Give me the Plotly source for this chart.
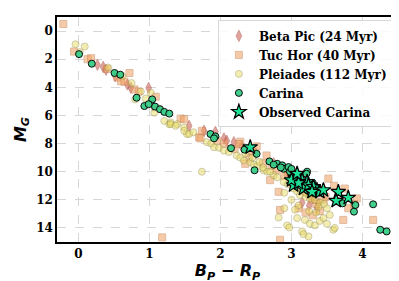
import plotly.graph_objects as go

# ---- data ----
pleiades_x = [-0.04, 0.09, 0.02, 0.42, 0.62, 0.75, 0.88, 1.02, 0.95, 1.07, 1.13, 1.21, 1.28, 1.30, 1.39, 1.49, 1.53, 1.49,
              1.56, 1.62, 1.74, 1.81, 1.87, 1.91, 1.98, 2.05, 2.12, 2.23, 2.28, 2.33, 2.42, 2.47, 2.52, 2.61, 2.66, 2.75,
              2.80, 2.89, 2.95, 3.03, 3.08, 3.12, 3.20, 3.26, 3.33, 3.40, 3.46, 3.10, 3.00, 2.90, 2.82, 2.94, 2.97, 3.08,
              3.15, 3.19, 3.24, 3.17, 3.26, 3.33, 3.40, 3.45, 3.54, 3.59, 3.61, 3.50, 3.25, 3.35, 2.90, 3.05, 2.60, 2.70,
              2.45, 2.55, 2.35, 3.20, 3.10, 3.50, 3.38, 1.30, 1.37, 0.80]
pleiades_y = [0.94, 1.10, 1.50, 2.60, 3.20, 3.70, 4.30, 4.39, 4.80, 5.80, 5.50, 6.39, 6.62, 6.50, 6.62, 6.85, 7.32, 7.09,
              7.32, 7.20, 10.0, 7.90, 8.00, 8.26, 8.30, 8.50, 8.60, 8.85, 9.00, 9.20, 9.32, 9.50, 9.60, 9.90, 10.0, 10.26,
              10.4, 10.73, 10.9, 11.2, 11.4, 11.67, 11.8, 11.9, 12.0, 12.2, 12.3, 12.4, 12.0, 11.5, 13.26, 13.82, 13.97, 13.3,
              14.25, 13.43, 14.6, 14.44, 13.7, 13.82, 13.5, 13.3, 13.08, 14.13, 14.0, 13.7, 12.8, 12.9, 12.6, 12.7, 9.7, 10.0,
              9.0, 9.3, 8.7, 11.5, 11.1, 12.6, 12.5, 6.62, 6.74, 4.86]

tuchor_x = [-0.21, -0.06, 0.13, 0.18, 0.40, 0.55, 0.60, 0.72, 0.65, 0.79, 0.85, 1.09, 1.44, 1.49, 1.70, 1.74, 1.72, 2.28,
            2.20, 2.35, 2.45, 2.65, 2.60, 2.72, 2.78, 2.82, 2.84, 2.84, 2.90, 2.95, 3.00, 3.10, 3.18, 3.25, 3.30, 3.35,
            3.40, 3.48, 3.52, 3.60, 3.75, 3.73, 3.92, 3.88, 4.15, 1.18, 3.10, 3.20, 3.30, 2.98, 2.70, 3.05, 3.45, 3.65,
            3.80, 2.40, 1.95, 2.05, 2.26, 2.51]
tuchor_y = [-0.5, 1.46, 2.00, 1.93, 2.70, 3.30, 3.57, 2.98, 3.60, 4.15, 4.30, 4.67, 6.22, 6.27, 7.56, 7.09, 7.63, 7.87,
            8.40, 9.44, 8.60, 8.85, 9.40, 9.60, 9.90, 11.43, 12.72, 14.84, 10.3, 10.1, 10.8, 11.0, 11.4, 11.6, 12.0, 12.3,
            12.8, 11.8, 10.49, 11.0, 11.2, 13.43, 11.9, 12.3, 13.43, 14.67, 12.6, 12.9, 13.1, 9.9, 10.6, 10.5, 12.0, 12.1,
            12.6, 9.0, 7.8, 8.0, 8.03, 8.2]

betapic_x = [0.27, 0.35, 0.39, 0.52, 0.69, 0.74, 0.99, 1.05, 1.56, 1.77, 1.93, 2.05, 2.09, 2.19, 2.30, 2.50, 2.75, 2.95,
             3.05, 3.15, 3.22, 3.28, 3.36, 3.38, 3.30, 3.45, 3.15, 3.25]
betapic_y = [2.40, 2.55, 2.75, 3.20, 3.80, 4.04, 4.04, 5.30, 6.74, 7.09, 7.16, 7.63, 7.80, 7.90, 8.20, 8.70, 9.40, 10.0,
             10.6, 11.0, 11.3, 11.6, 12.6, 12.25, 11.9, 11.2, 12.2, 12.4]

carina_x = [0.01, 0.19, 0.51, 0.59, 0.82, 0.93, 1.04, 1.08, 1.15, 1.21, 1.28, 0.99, 1.86, 1.93, 1.91, 2.15, 2.34, 2.51,
            2.48, 2.69, 2.80, 2.87, 2.89, 2.96, 2.98, 3.00, 3.22, 3.21, 2.75, 2.85, 3.05, 3.10, 3.30, 3.72, 3.90, 3.88,
            4.15, 4.25, 4.34, 3.00, 3.15, 3.35]
carina_y = [1.64, 2.32, 2.98, 3.10, 4.74, 5.33, 4.86, 5.37, 5.56, 5.75, 5.87, 5.20, 7.32, 7.49, 7.63, 8.33, 8.43, 8.73,
            9.90, 9.27, 9.44, 9.55, 9.79, 9.67, 10.0, 9.80, 10.0, 10.14, 9.50, 9.70, 10.2, 10.3, 10.8, 12.25, 12.37, 12.84,
            12.32, 14.13, 14.25, 10.5, 10.9, 11.2]

obs_x = [2.42, 3.05, 3.03, 3.15, 3.22, 3.17, 3.24, 3.31, 3.36, 3.40, 3.29, 3.45, 3.10, 3.66, 3.80, 3.63, 3.00, 3.08]
obs_y = [8.26, 10.44, 10.96, 10.61, 10.73, 11.2, 10.96, 11.08, 11.31, 11.43, 11.43, 11.31, 10.8, 11.43, 11.85, 12.07, 10.6, 10.14]

x_ticks = [0, 1, 2, 3, 4]
y_ticks = [0, 2, 4, 6, 8, 10, 12, 14]

names = ["Beta Pic (24 Myr)", "Tuc Hor (40 Myr)", "Pleiades (112 Myr)", "Carina", "Observed Carina"]

fig = go.Figure()
fig.add_trace(go.Scatter(x=betapic_x, y=betapic_y, mode="markers", name=names[0],
                         marker=dict(symbol="diamond-tall", size=8, color="rgb(205,85,75)", opacity=0.55,
                                     line=dict(color="rgb(170,70,60)", width=1))))
fig.add_trace(go.Scatter(x=tuchor_x, y=tuchor_y, mode="markers", name=names[1],
                         marker=dict(symbol="square", size=7, color="rgb(240,160,95)", opacity=0.55,
                                     line=dict(color="rgb(200,130,80)", width=1))))
fig.add_trace(go.Scatter(x=pleiades_x, y=pleiades_y, mode="markers", name=names[2],
                         marker=dict(symbol="circle", size=7, color="rgb(232,220,100)", opacity=0.5,
                                     line=dict(color="rgb(160,150,80)", width=1))))
fig.add_trace(go.Scatter(x=carina_x, y=carina_y, mode="markers", name=names[3],
                         marker=dict(symbol="circle", size=7, color="rgb(55,205,135)", opacity=0.95,
                                     line=dict(color="black", width=1))))
fig.add_trace(go.Scatter(x=obs_x, y=obs_y, mode="markers", name=names[4],
                         marker=dict(symbol="star", size=11, color="rgb(30,225,150)",
                                     line=dict(color="black", width=1.2))))

tick_font = dict(family="DejaVu Serif", size=12, color="black", weight="bold")
title_font = dict(family="DejaVu Sans", size=16, color="black", weight="bold", style="italic")

fig.update_layout(
    width=399, height=281,
    margin=dict(l=49, r=7, t=7, b=47),
    paper_bgcolor="white", plot_bgcolor="white",
    showlegend=True,
    legend=dict(x=0.985, y=0.985, xanchor="right", yanchor="top",
                bgcolor="rgba(255,255,255,0.85)", bordercolor="rgb(215,215,215)", borderwidth=1,
                font=dict(family="DejaVu Serif", size=12, color="black", weight="bold"),
                itemsizing="trace", tracegroupgap=0, itemwidth=30),
    xaxis=dict(range=[-0.3, 4.5], tickvals=x_ticks, ticktext=[str(v) for v in x_ticks],
               showgrid=True, gridcolor="rgb(215,215,215)", griddash="dash", gridwidth=1,
               zeroline=False, showline=True, linecolor="black", linewidth=1.5, mirror=True,
               tickfont=tick_font, ticks="",
               title=dict(text="B<sub>P</sub> − R<sub>P</sub>", font=title_font, standoff=1)),
    yaxis=dict(range=[15, -1], tickvals=y_ticks, ticktext=[str(v) for v in y_ticks],
               showgrid=True, gridcolor="rgb(215,215,215)", griddash="dash", gridwidth=1,
               zeroline=False, showline=True, linecolor="black", linewidth=1.5, mirror=True,
               tickfont=tick_font, ticks="",
               title=dict(text="M<sub>G</sub>", font=title_font, standoff=6)),
)

fig.write_html("out.html")
